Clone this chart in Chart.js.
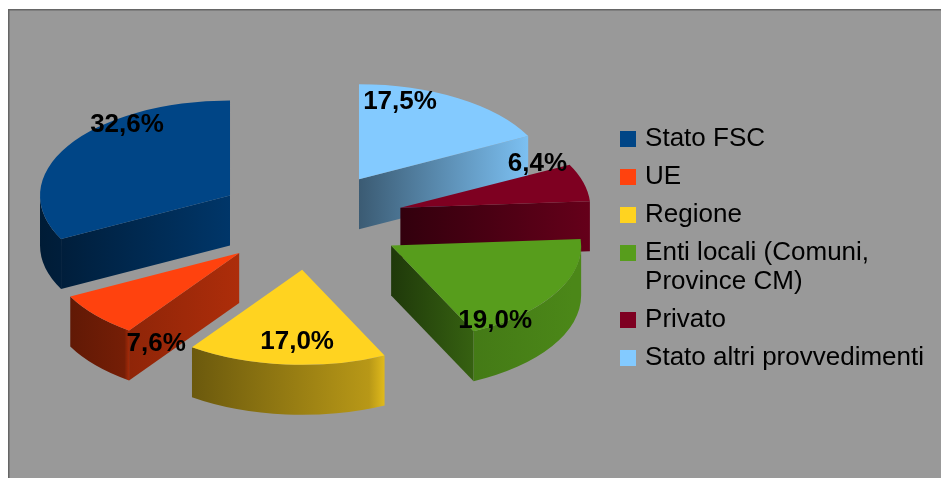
<!DOCTYPE html>
<html>
<head>
<meta charset="utf-8">
<style>html,body{margin:0;padding:0;background:#fff}canvas{display:block}</style>
<script src="https://cdn.jsdelivr.net/npm/chart.js@4"></script>
</head>
<body>
<canvas id="c" width="941" height="478"></canvas>
<script>
const categories = ["Stato FSC","UE","Regione","Enti locali (Comuni,\nProvince CM)","Privato","Stato altri provvedimenti"];
const shares = [32.6,7.6,17.0,19.0,6.4,17.5];
const colors = ["#004586","#ff420e","#ffd320","#579d1c","#7e0021","#83caff"];
// appearance of the tilted pie (not data)
const squash = 0.5, explodeX = 93.75, explodeY = 49, depth = 50, pieLift = -29;
const faceShade = [[.44,.78],[.56,.68],[.5,.7],[.36,.62],[.4,.8],[.45,.95]];
const rimShade  = [[.4,.44],[.38,.46],[.42,.72],[.78,.86],[.72,.82],[.5,.9]];
const rimGlint  = [0,.18,.16,0,0,0];
const labelShift = [[-103,-71],[-83,91],[-5,72],[104,75],[137,-44],[41,-77]];

const shade = (hex,f)=>{
  const n=parseInt(hex.slice(1),16);
  return `rgb(${Math.round((n>>16&255)*f)},${Math.round((n>>8&255)*f)},${Math.round((n&255)*f)})`;
};
const swatch = col=>{
  const s=document.createElement('canvas');s.width=16;s.height=16;
  const x=s.getContext('2d');x.fillStyle=col;x.fillRect(0,0,16,16);
  return s;
};
const apexOf = a=>{
  const mid=(a.startAngle+a.endAngle)/2;
  return {x:a.x+Math.cos(mid)*explodeX, y:a.y+pieLift+Math.sin(mid)*explodeY};
};
const tilted3d = {
  id:'tilted3d',
  beforeDraw(chart){
    const {ctx,width,height}=chart;
    ctx.save();
    ctx.fillStyle='#fff';ctx.fillRect(0,0,width,height);
    ctx.fillStyle='#999999';ctx.fillRect(8,9,width,height);
    ctx.fillStyle='#666666';ctx.fillRect(8,9,width,1.5);ctx.fillRect(8,9,1.5,height);
    ctx.restore();
  },
  beforeDatasetsDraw(chart){
    const {ctx}=chart;
    const arcs=chart.getDatasetMeta(0).data;
    const n=arcs.length;
    const order=arcs.map((a,i)=>({a,i,p:apexOf(a)})).sort((u,v)=>u.p.y-v.p.y);
    for(const {a,i,p} of order){
      const c=n-1-i, base=colors[c], r=a.outerRadius, ry=r*squash;
      const pt=t=>({x:p.x+Math.cos(t)*r,y:p.y+Math.sin(t)*ry});
      const face=(t,normal)=>{
        if(Math.sin(normal)<=0.001) return;
        const e=pt(t);
        const g=ctx.createLinearGradient(Math.min(p.x,e.x),0,Math.max(p.x,e.x)+.01,0);
        g.addColorStop(0,shade(base,faceShade[c][0]));
        g.addColorStop(1,shade(base,faceShade[c][1]));
        ctx.fillStyle=g;
        ctx.beginPath();
        ctx.moveTo(p.x,p.y);ctx.lineTo(e.x,e.y);ctx.lineTo(e.x,e.y+depth);ctx.lineTo(p.x,p.y+depth);
        ctx.closePath();ctx.fill();
      };
      face(a.startAngle,a.startAngle-Math.PI/2);
      face(a.endAngle,a.endAngle+Math.PI/2);
      for(const k of [0,2]){
        const lo=Math.max(a.startAngle,k*Math.PI), hi=Math.min(a.endAngle,(k+1)*Math.PI);
        if(hi<=lo) continue;
        const xs=[pt(lo).x,pt(hi).x], x0=Math.min(...xs), x1=Math.max(...xs);
        const g=ctx.createLinearGradient(x0,0,x1+.01,0);
        g.addColorStop(0,shade(base,rimShade[c][0]));
        g.addColorStop(.92,shade(base,rimShade[c][1]));
        g.addColorStop(1,shade(base,Math.min(1,rimShade[c][1]+rimGlint[c])));
        ctx.fillStyle=g;
        ctx.beginPath();
        ctx.ellipse(p.x,p.y,r,ry,0,lo,hi);
        ctx.ellipse(p.x,p.y+depth,r,ry,0,hi,lo,true);
        ctx.closePath();ctx.fill();
      }
      ctx.save();
      ctx.translate(p.x,p.y);ctx.scale(1,squash);ctx.translate(-a.x,-a.y);
      a.draw(ctx);
      ctx.restore();
    }
    return false;
  },
  afterDraw(chart){
    const {ctx}=chart;
    const arcs=chart.getDatasetMeta(0).data, n=arcs.length;
    ctx.save();
    ctx.fillStyle='#000';ctx.font='bold 26px "Liberation Sans"';
    ctx.textAlign='center';ctx.textBaseline='middle';
    arcs.forEach((a,i)=>{
      const c=n-1-i,p=apexOf(a);
      ctx.fillText(shares[c].toFixed(1).replace('.',',')+'%',p.x+labelShift[c][0],p.y+labelShift[c][1]);
    });
    ctx.restore();
  }
};
new Chart(document.getElementById('c'),{
  type:'pie',
  data:{
    labels:[...categories].reverse(),
    datasets:[{data:[...shares].reverse(),backgroundColor:[...colors].reverse(),borderWidth:0,radius:190}]
  },
  options:{
    responsive:false,animation:false,
    layout:{padding:{left:5,right:7,top:22,bottom:0}},
    plugins:{
      tooltip:{enabled:false},
      legend:{
        position:'right',align:'center',
        labels:{
          usePointStyle:true,pointStyleWidth:8,boxHeight:16,padding:9,color:'#000',
          font:{family:'"Liberation Sans"',size:26,lineHeight:'29px'},
          generateLabels:()=>categories.map((t,i)=>({text:t.split('\n'),fillStyle:colors[i],strokeStyle:colors[i],pointStyle:swatch(colors[i]),lineWidth:0,hidden:false,index:i}))
        }
      }
    }
  },
  plugins:[tilted3d]
});
</script>
</body>
</html>
